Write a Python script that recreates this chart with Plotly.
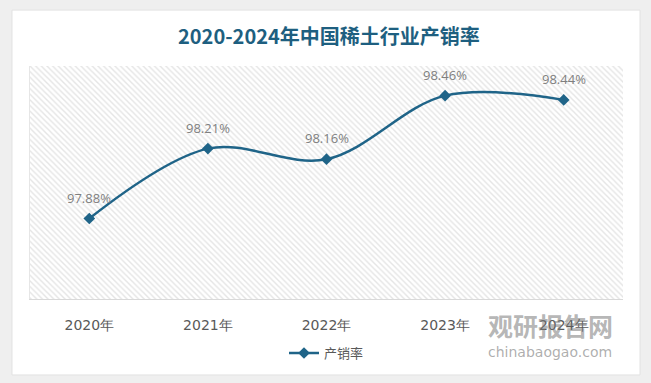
import plotly.graph_objects as go

categories = ["2020年", "2021年", "2022年", "2023年", "2024年"]
rate = [97.88, 98.21, 98.16, 98.46, 98.44]
labels = ["97.88%", "98.21%", "98.16%", "98.46%", "98.44%"]
y_min, y_max = 97.5, 98.6
title = "2020-2024年中国稀土行业产销率"
series_name = "产销率"

line_color = "#1f6488"
fig = go.Figure()

# hatched plot-area background
fig.add_trace(go.Bar(
    x=categories, y=[y_max - y_min] * len(categories), base=[y_min] * len(categories),
    width=1, marker=dict(color="white", line=dict(width=0),
                         pattern=dict(shape="\\", fgcolor="#cccccc", bgcolor="white",
                                      size=4, solidity=0.35)),
    showlegend=False, hoverinfo="skip"))

fig.add_trace(go.Scatter(
    x=categories, y=rate, mode="lines+markers", name=series_name,
    line=dict(color=line_color, width=2.5, shape="spline", smoothing=1),
    marker=dict(symbol="diamond", size=9, color=line_color)))

for c, v, t in zip(categories, rate, labels):
    fig.add_annotation(x=c, y=v, text=t, showarrow=False, yshift=21,
                       font=dict(size=13, color="#7f7f7f", family="Open Sans"))

# card background
fig.add_shape(type="rect", xref="paper", yref="paper",
              x0=-0.0304, x1=1.0287, y0=-0.326, y1=1.240,
              fillcolor="white", line=dict(color="#e2e2e2", width=1), layer="below")

# title
fig.add_annotation(xref="paper", yref="paper", x=0.505, y=1.133, xanchor="center", yanchor="middle",
                   text="<b>" + title + "</b>", showarrow=False,
                   font=dict(size=20, color="#1e5f80", family="Noto Sans CJK SC"))

# watermark
fig.add_annotation(xref="paper", yref="paper", x=0.877, y=-0.11, xanchor="center", yanchor="middle",
                   text="<b>观研报告网</b>", showarrow=False,
                   font=dict(size=25, color="rgba(120,120,120,0.55)", family="Noto Sans CJK SC"))
fig.add_annotation(xref="paper", yref="paper", x=0.877, y=-0.227, xanchor="center", yanchor="middle",
                   text="chinabaogao.com", showarrow=False,
                   font=dict(size=14, color="rgba(120,120,120,0.6)", family="DejaVu Sans"))

fig.update_layout(
    width=651, height=383,
    margin=dict(l=30, r=28, t=66, b=84),
    paper_bgcolor="#efefef", plot_bgcolor="white",
    bargap=0,
    showlegend=True,
    legend=dict(orientation="h", x=0.5, xanchor="center", y=-0.232, yanchor="middle",
                font=dict(size=13, color="#595959", family="Noto Sans CJK SC"),
                bgcolor="rgba(0,0,0,0)"),
    xaxis=dict(range=[-0.5, 4.5], showgrid=False, showline=True, linecolor="#d9d9d9",
               tickfont=dict(size=14, color="#595959", family="DejaVu Sans"),
               ticks="", ticklabelstandoff=13),
    yaxis=dict(range=[y_min, y_max], showgrid=False, showticklabels=False,
               showline=True, linecolor="#e6e6e6", zeroline=False),
)

fig.write_html("out.html", config={"displayModeBar": False},
               post_script="document.body.style.margin='0';")
